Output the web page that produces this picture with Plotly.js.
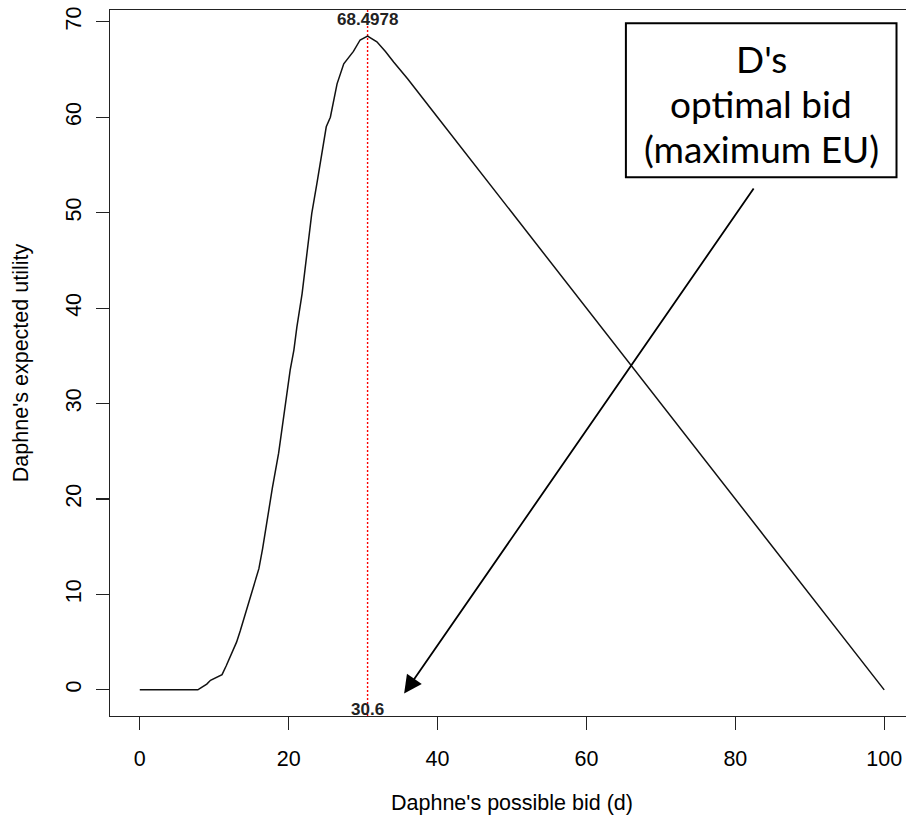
<!DOCTYPE html>
<html>
<head>
<meta charset="utf-8">
<script src="https://cdn.plot.ly/plotly-3.0.1.min.js"></script>
<style>
html,body{margin:0;padding:0;background:#fff;overflow:hidden;width:906px;height:816px;}
#chart{width:920px;height:816px;}
</style>
</head>
<body>
<div id="chart"></div>
<script>
// Daphne's possible bid (d)
var bids = [0, 2, 4, 6, 7.8, 8.2, 9.0, 9.5, 10.2, 11.05, 11.6, 12.2, 13.0, 13.5, 14.0, 14.6, 15.3, 16.0, 16.5, 16.9, 17.3, 17.8, 18.65, 19.5, 20.2, 20.7, 21.1, 21.8, 22.5, 23.1, 23.8, 24.5, 25.05, 25.6, 26.1, 26.5, 27.4, 28.7, 29.6, 30.6, 31.85, 33, 34.1, 36, 40, 50, 60, 70, 80, 90, 100];
// Daphne's expected utility
var expectedUtility = [0, 0, 0, 0, 0, 0.2, 0.6, 1.0, 1.3, 1.6, 2.5, 3.6, 5.0, 6.2, 7.5, 9.0, 10.7, 12.7, 14.8, 16.8, 18.9, 21.1, 24.8, 29.3, 33.5, 35.6, 38.0, 41.5, 45.7, 49.9, 53.1, 56.2, 59.0, 60.0, 62.1, 63.5, 65.6, 66.9, 68.1, 68.4978, 67.9, 66.9, 65.8, 64.0, 60.0, 50.0, 40.0, 30.0, 20.0, 10.0, 0];
var optimalBid = [30.6];
var maxEU = [68.4978];
var xTicks = [0, 20, 40, 60, 80, 100];
var yTicks = [0, 10, 20, 30, 40, 50, 60, 70];
var boxText = ["D's", "optimal bid", "(maximum EU)"];

var axisFont = {family: "Liberation Sans, Arial, sans-serif", size: 21.5, color: "#000"};
var boxFont = {family: "Lato, Open Sans, sans-serif", size: 37, color: "#000"};
var boxLineY = [66.2, 61.48, 56.76];

var traces = [{
  x: bids, y: expectedUtility, type: "scatter", mode: "lines",
  line: {color: "#111", width: 1.5}, hoverinfo: "skip", showlegend: false
}];

var annotations = [{
  x: optimalBid[0], y: 70.23, xref: "x", yref: "y",
  text: String(maxEU[0]), showarrow: false,
  font: {family: "Liberation Sans, Arial, sans-serif", size: 17, color: "#222", weight: "bold"},
  xanchor: "center", yanchor: "middle"
}, {
  x: optimalBid[0], y: -2.04, xref: "x", yref: "y",
  text: String(optimalBid[0]), showarrow: false,
  font: {family: "Liberation Sans, Arial, sans-serif", size: 17, color: "#222", weight: "bold"},
  xanchor: "center", yanchor: "middle"
}, {
  x: 35.51, y: -0.39, xref: "x", yref: "y",
  ax: 82.6, ay: 52.69, axref: "x", ayref: "y",
  text: "", showarrow: true,
  arrowhead: 2, arrowsize: 2.0, arrowwidth: 1.8, arrowcolor: "#000"
}];
boxText.forEach(function (t, i) {
  annotations.push({
    x: 83.47, y: boxLineY[i], xref: "x", yref: "y",
    text: t, showarrow: false, font: boxFont,
    xanchor: "center", yanchor: "middle", align: "center"
  });
});

var layout = {
  width: 920, height: 816,
  margin: {l: 109.5, r: 5.5, t: 10, b: 100},
  paper_bgcolor: "#fff", plot_bgcolor: "#fff",
  showlegend: false,
  xaxis: {
    range: [-4, 104], tickvals: xTicks, ticktext: xTicks.map(String),
    showgrid: false, zeroline: false, showline: true, mirror: true,
    linecolor: "#222", linewidth: 1.2,
    ticks: "outside", ticklen: 13, tickwidth: 1.2, tickcolor: "#222",
    tickfont: axisFont, ticklabelstandoff: 10,
    title: {text: "Daphne's possible bid (d)", font: axisFont, standoff: 25},
    automargin: false
  },
  yaxis: {
    range: [-2.74, 71.24], tickvals: yTicks, ticktext: yTicks.map(String),
    showgrid: false, zeroline: false, showline: true, mirror: true,
    linecolor: "#222", linewidth: 1.2,
    ticks: "outside", ticklen: 13, tickwidth: 1.2, tickcolor: "#222",
    tickfont: axisFont, tickangle: -90, ticklabelstandoff: 6,
    title: {text: "Daphne's expected utility", font: axisFont, standoff: 27},
    automargin: false
  },
  shapes: [{
    type: "line", xref: "x", yref: "paper",
    x0: optimalBid[0], x1: optimalBid[0], y0: 0, y1: 1,
    line: {color: "#ff0000", width: 1.4, dash: "2px,2px"}, layer: "below"
  }, {
    type: "rect", xref: "x", yref: "y",
    x0: 65.3, x1: 101.65, y0: 53.72, y1: 69.86,
    line: {color: "#000", width: 2}, fillcolor: "#fff"
  }],
  annotations: annotations
};

Plotly.newPlot("chart", traces, layout, {displayModeBar: false, staticPlot: true});
</script>
</body>
</html>
